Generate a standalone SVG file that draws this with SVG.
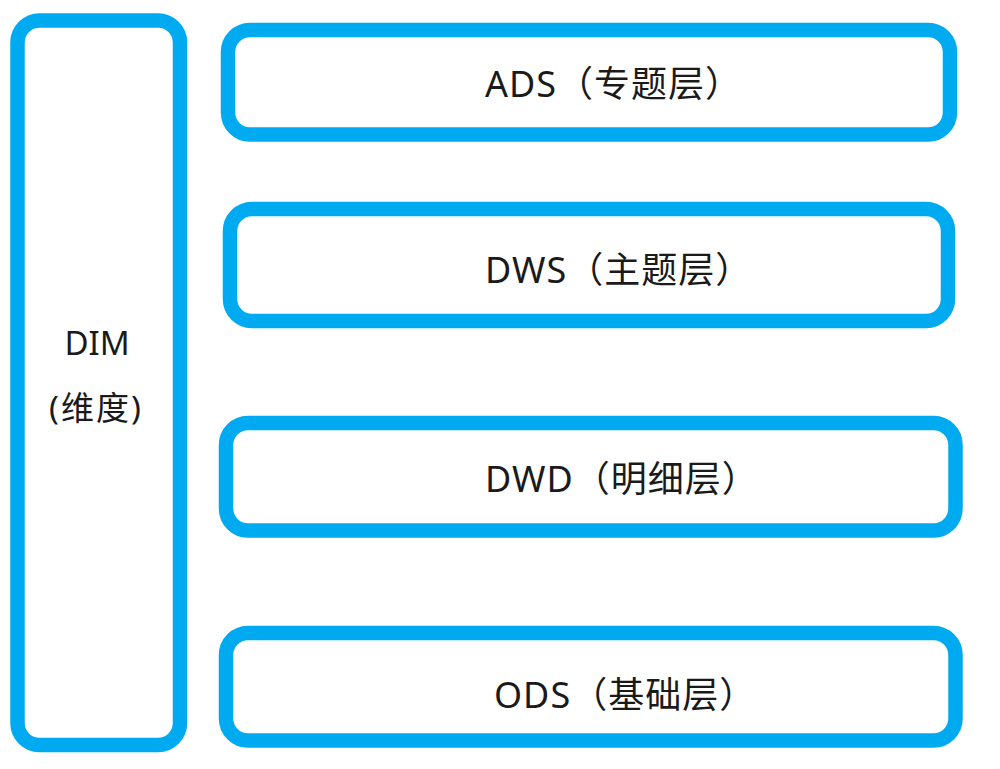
<svg xmlns="http://www.w3.org/2000/svg" width="1000" height="769" viewBox="0 0 1000 769">
<style>
.box{fill:#fff;stroke:#00AAF1;stroke-width:14.5}
.lbl{font-family:"Noto Sans","Noto Sans CJK SC",sans-serif;font-size:36px;letter-spacing:1px;fill:#1a1a1a}
.dim{font-family:"Noto Sans","Noto Sans CJK SC",sans-serif;font-size:33px;fill:#1a1a1a;text-anchor:middle}
</style>
<rect width="1000" height="769" fill="#fff"/>
<g id="dim">
<rect class="box" x="17.5" y="20.5" width="162.5" height="724.5" rx="22"/>
<text class="dim" x="97" y="355">DIM</text>
<text class="dim" x="96" y="420" letter-spacing="2">(维度)</text>
</g>
<g id="ads">
<rect class="box" x="228" y="30" width="722" height="104.5" rx="22"/>
<text class="lbl" x="485" y="97">ADS（专题层）</text>
</g>
<g id="dws">
<rect class="box" x="230" y="209" width="718" height="112" rx="22"/>
<text class="lbl" x="485" y="283">DWS（主题层）</text>
</g>
<g id="dwd">
<rect class="box" x="226" y="423" width="729.5" height="107.5" rx="22"/>
<text class="lbl" x="485" y="492">DWD（明细层）</text>
</g>
<g id="ods">
<rect class="box" x="226" y="633" width="729.5" height="107.5" rx="22"/>
<text class="lbl" x="494" y="708">ODS（基础层）</text>
</g>
<g id="connectors"></g>
</svg>
